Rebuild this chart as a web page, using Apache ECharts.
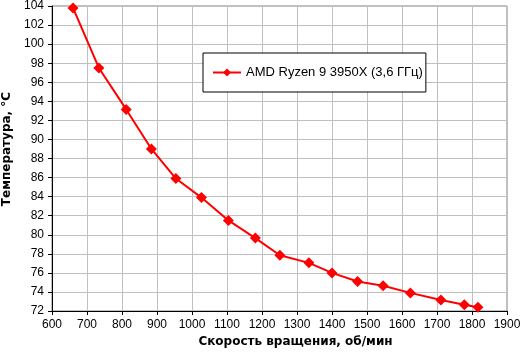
<!DOCTYPE html>
<html><head><meta charset="utf-8">
<script src="https://cdn.jsdelivr.net/npm/echarts@6/dist/echarts.min.js"></script>
<style>html,body{margin:0;padding:0;background:#fff}#c{width:520px;height:355px}</style>
</head><body><div id="c"></div>
<script>
const seriesName = 'AMD Ryzen 9 3950X (3,6 ГГц)';
const rpm = [660, 734, 812, 884, 954, 1027, 1104, 1181, 1251, 1334, 1400, 1473, 1546, 1624, 1711, 1778, 1817];
const temp = [103.8, 97.5, 93.15, 89.0, 85.9, 83.9, 81.5, 79.65, 77.85, 77.05, 76.0, 75.1, 74.65, 73.9, 73.15, 72.65, 72.4];
const xTitle = 'Скорость вращения, об/мин';
const yTitle = 'Температура, °C';

const chart = echarts.init(document.getElementById('c'), null, {renderer: 'canvas'});
const font = 'Liberation Sans, Arial, sans-serif';
const titleFont = 'DejaVu Sans, Liberation Sans, sans-serif';
chart.setOption({
  animation: false,
  backgroundColor: '#fff',
  textStyle: {fontFamily: font},
  grid: {left: 52, right: 13, top: 6, bottom: 44, show: true, borderColor: '#808080', borderWidth: 1,
         containLabel: false, outerBoundsMode: 'none'},
  legend: {
    left: 203, top: 53,
    padding: [13, 3, 13, 9],
    itemWidth: 28, itemHeight: 10, itemGap: 4,
    borderColor: '#000', borderWidth: 1, backgroundColor: '#fff', borderRadius: 0,
    textStyle: {fontSize: 13, color: '#000', fontFamily: font},
    data: [seriesName]
  },
  xAxis: {
    type: 'value', min: 600, max: 1900, interval: 100,
    name: xTitle, nameLocation: 'middle', nameGap: 25,
    nameTextStyle: {fontWeight: 'bold', fontSize: 12, color: '#000', fontFamily: titleFont, padding: [0, 0, 0, 32]},
    axisLine: {lineStyle: {color: '#000', width: 1}},
    axisTick: {show: true, inside: false, length: 4, lineStyle: {color: '#000'}},
    axisLabel: {fontSize: 12, color: '#000', margin: 8, formatter: v => String(v)},
    splitLine: {show: true, lineStyle: {color: '#c0c0c0', width: 1}}
  },
  yAxis: {
    type: 'value', min: 72, max: 104, interval: 2,
    name: yTitle, nameLocation: 'middle', nameGap: 38,
    nameTextStyle: {fontWeight: 'bold', fontSize: 12, color: '#000', fontFamily: titleFont, padding: [0, 0, 0, 19]},
    axisLine: {show: true, lineStyle: {color: '#000', width: 1}},
    axisTick: {show: true, inside: false, length: 4, lineStyle: {color: '#000'}},
    axisLabel: {fontSize: 12, color: '#000', margin: 8, formatter: v => String(v)},
    splitLine: {show: true, lineStyle: {color: '#c0c0c0', width: 1}}
  },
  series: [{
    name: seriesName, type: 'line',
    data: rpm.map((x, i) => [x, temp[i]]),
    symbol: 'diamond', symbolSize: 11,
    lineStyle: {color: '#ff0000', width: 2},
    itemStyle: {color: '#ff0000'}
  }]
});
</script></body></html>
